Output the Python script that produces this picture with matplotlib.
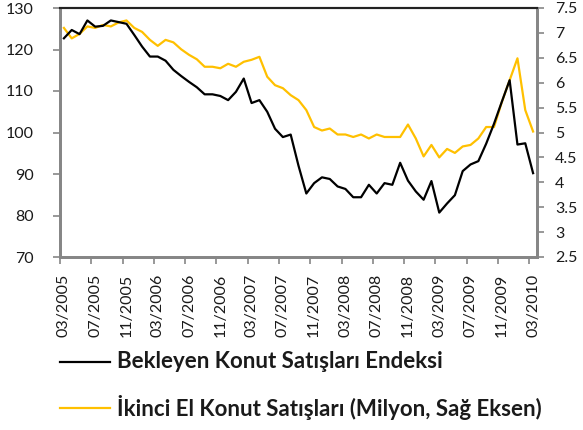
import matplotlib
matplotlib.use("Agg")
import matplotlib.pyplot as plt
from matplotlib.lines import Line2D
import numpy as np

# Aylık seriler: 03/2005 - 03/2010
months = ["03/2005", "04/2005", "05/2005", "06/2005", "07/2005", "08/2005", "09/2005", "10/2005",
          "11/2005", "12/2005", "01/2006", "02/2006", "03/2006", "04/2006", "05/2006", "06/2006",
          "07/2006", "08/2006", "09/2006", "10/2006", "11/2006", "12/2006", "01/2007", "02/2007",
          "03/2007", "04/2007", "05/2007", "06/2007", "07/2007", "08/2007", "09/2007", "10/2007",
          "11/2007", "12/2007", "01/2008", "02/2008", "03/2008", "04/2008", "05/2008", "06/2008",
          "07/2008", "08/2008", "09/2008", "10/2008", "11/2008", "12/2008", "01/2009", "02/2009",
          "03/2009", "04/2009", "05/2009", "06/2009", "07/2009", "08/2009", "09/2009", "10/2009",
          "11/2009", "12/2009", "01/2010", "02/2010", "03/2010"]

bekleyen = [122.7, 124.7, 123.7, 127.0, 125.5, 125.7, 127.0, 126.6, 126.2, 123.5,
            120.7, 118.3, 118.3, 117.3, 115.1, 113.6, 112.2, 110.9, 109.2, 109.2,
            108.8, 107.8, 109.8, 113.0, 107.1, 107.8, 105.0, 100.9, 98.9, 99.5,
            92.0, 85.3, 87.8, 89.2, 88.8, 87.0, 86.4, 84.4, 84.4, 87.4,
            85.3, 87.8, 87.4, 92.7, 88.4, 85.8, 83.8, 88.3, 80.7, 82.9,
            84.9, 90.7, 92.3, 93.1, 97.3, 102.1, 107.4, 112.6, 97.1, 97.4,
            90.2]

ikinci_el = [7.10, 6.89, 6.98, 7.13, 7.10, 7.16, 7.13, 7.21, 7.25, 7.10,
             7.02, 6.86, 6.74, 6.86, 6.81, 6.67, 6.56, 6.47, 6.32, 6.32,
             6.29, 6.38, 6.32, 6.42, 6.46, 6.52, 6.12, 5.95, 5.89, 5.75,
             5.65, 5.45, 5.11, 5.04, 5.08, 4.96, 4.96, 4.91, 4.96, 4.88,
             4.96, 4.91, 4.91, 4.91, 5.16, 4.88, 4.52, 4.75, 4.50, 4.67,
             4.59, 4.72, 4.75, 4.88, 5.11, 5.11, 5.61, 6.05, 6.49, 5.45,
             5.02]

label_bekleyen = "Bekleyen Konut Satışları Endeksi"
label_ikinci = "İkinci El Konut Satışları (Milyon, Sağ Eksen)"

BLACK = "#000000"
GOLD = "#FFC000"
GREY = "#868686"
TXT = "#1a1a1a"

plt.rcParams["font.family"] = ["Lato", "DejaVu Sans"]

W, H = 583, 430
fig = plt.figure(figsize=(W / 100, H / 100), dpi=100)
ax = fig.add_axes([60 / W, 1 - 257 / H, 477 / W, 249 / H])
ax2 = ax.twinx()

x = np.arange(len(months))
ax.plot(x, bekleyen, color=BLACK, lw=1.6, zorder=3)
ax2.plot(x, ikinci_el, color=GOLD, lw=1.6, zorder=2)
ax.set_zorder(ax2.get_zorder() + 1)
ax.patch.set_visible(False)

ax.set_xlim(-0.5, len(months) - 0.5)
ax.set_ylim(70, 130)
ax.set_yticks(np.arange(70, 131, 10))
ax2.set_ylim(2.5, 7.5)
ax2.set_yticks(np.arange(2.5, 7.51, 0.5))
ax2.set_yticklabels([f"{v:g}" for v in np.arange(2.5, 7.51, 0.5)])

ax.set_xticks(x[::4])
ax.set_xticklabels(months[::4], rotation=90)
ax.set_xticks(np.arange(-0.5, len(months) - 1, 4), minor=True)
ax.tick_params(axis="x", which="major", length=0, pad=12, labelsize=11.5, labelcolor=TXT)
ax.tick_params(axis="x", which="minor", length=5, width=1.2, color=GREY)
ax.tick_params(axis="y", length=5, width=1.2, color=GREY, labelsize=11.5, labelcolor=TXT, pad=14)
ax2.tick_params(axis="y", length=5, width=1.2, color=GREY, labelsize=11.5, labelcolor=TXT, pad=8)

for a in (ax, ax2):
    for side in ("left", "right", "bottom"):
        a.spines[side].set_color(GREY)
        a.spines[side].set_linewidth(2)
    a.spines["top"].set_color("#222222")
    a.spines["top"].set_linewidth(1.5)

# Lejant (grafiğin altında)
for yy, col, lab in [(362, BLACK, label_bekleyen), (408, GOLD, label_ikinci)]:
    fig.add_artist(Line2D([60 / W, 110 / W], [1 - yy / H, 1 - yy / H],
                          color=col, lw=1.6, transform=fig.transFigure))
    fig.text(117 / W, 1 - yy / H, lab, fontsize=16, fontweight="bold",
             color=TXT, va="center", ha="left")

fig.savefig("out.png", dpi=100)
